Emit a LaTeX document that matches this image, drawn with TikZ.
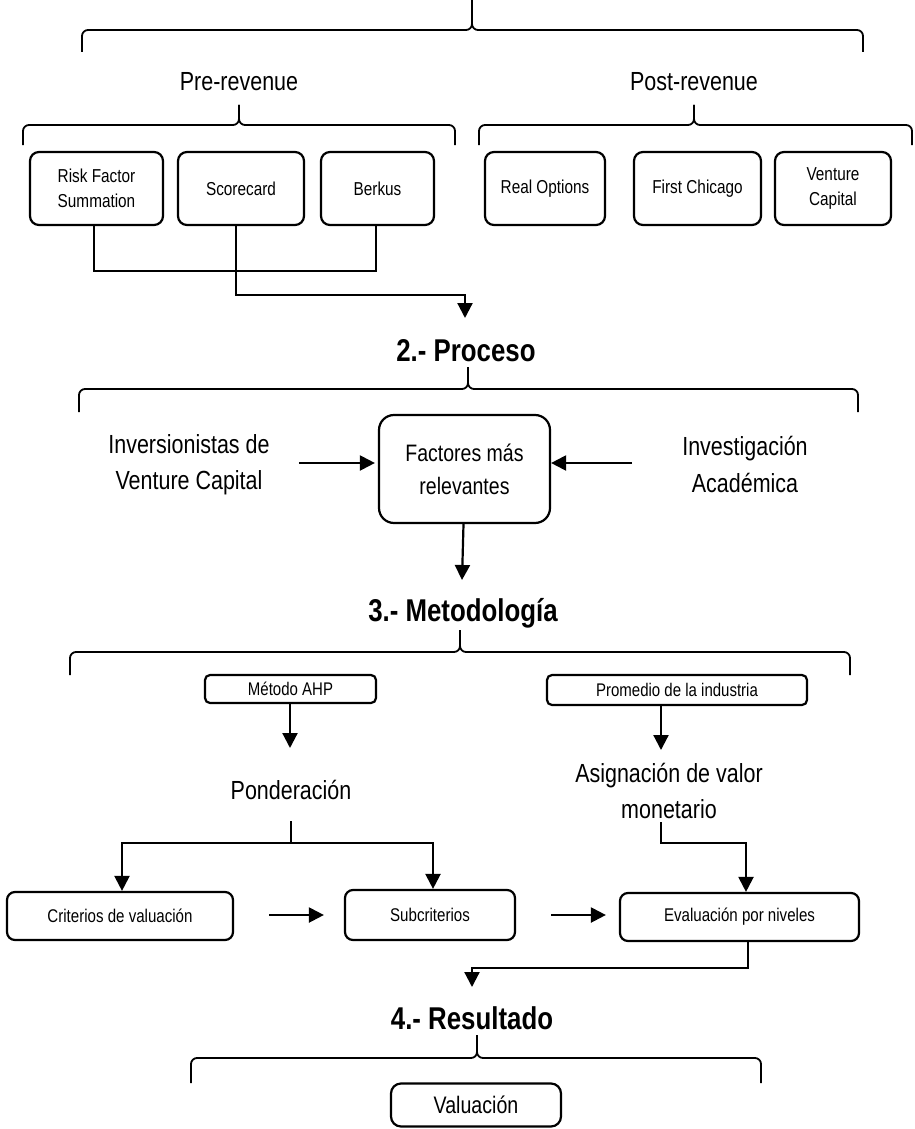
\documentclass[tikz,border=0pt]{standalone}
\usepackage{fontspec}
\setmainfont{Liberation Sans}[FakeStretch=0.82]
\usetikzlibrary{arrows.meta}
\newcommand{\brc}[6]{%
  \draw[bracestyle] (#1,#6) -- (#1,#4) -- (#3,#4) -- (#3,#5);
  \draw[bracestyle] (#2,#6) -- (#2,#4) -- (#3,#4) -- (#3,#5);}
\begin{document}
\begin{tikzpicture}[x=1pt,y=-1pt,
  bracestyle/.style={line width=1.8pt,rounded corners=6pt},
  conn/.style={line width=2pt},
  arr/.style={line width=2.2pt,-{Triangle[length=15pt,width=15pt]}},
  bigbox/.style={draw,line width=2.2pt,rounded corners=9pt,align=center,inner sep=0pt,
    font=\fontsize{18.7}{25}\selectfont,minimum height=73pt},
  smallbox/.style={draw,line width=2.2pt,rounded corners=5pt,align=center,inner sep=0pt,
    font=\fontsize{18.3}{20}\selectfont},
  midbox/.style={draw,line width=2.2pt,rounded corners=8pt,align=center,inner sep=0pt,
    font=\fontsize{18.4}{20}\selectfont,minimum height=48pt},
  label/.style={align=center,inner sep=0pt,font=\fontsize{26.2}{36.5}\selectfont},
  title/.style={inner sep=0pt,font=\fontsize{31.5}{34}\selectfont\bfseries}]
\useasboundingbox (0,0) rectangle (914,1129);

% level 1
\brc{82}{863}{472}{30}{0}{52}
\node[label] (pre) at (239,82) {Pre-revenue};
\node[label] (post) at (694,82) {Post-revenue};
\brc{23}{455}{239}{125}{105}{145}
\brc{479}{912}{694}{125}{105}{145}

\node[bigbox,minimum width=133pt] (risk) at (96.5,188.5) {Risk Factor\\Summation};
\node[bigbox,minimum width=126pt] (score) at (241,188.5) {Scorecard};
\node[bigbox,minimum width=113pt] (berkus) at (377.5,188.5) {Berkus};
\node[bigbox,minimum width=120pt] (realopt) at (545,188.5) {Real Options};
\node[bigbox,minimum width=127pt] (chicago) at (697.5,188.5) {First Chicago};
\node[bigbox,minimum width=116pt] (vc) at (833,188.5) {Venture\\Capital};

\draw[conn] ([xshift=-3pt]risk.south) -- ++(0,45) -| ([xshift=-1.5pt]berkus.south);
\coordinate (p1) at (465,318);
\draw[arr] ([xshift=-5pt]score.south) |- (465,295) -- (p1);

% level 2
\node[title] (proceso) at (466,351) {2.- Proceso};
\brc{79}{858}{468}{389}{367}{412}
\node[label] (inv) at (189,464.5) {Inversionistas de\\Venture Capital};
\node[label] (acad) at (745,464.5) {Investigación\\Académica};
\node[draw,line width=2.2pt,rounded corners=15pt,align=center,inner sep=0pt,
  minimum width=171pt,minimum height=108pt,font=\fontsize{23.8}{33}\selectfont]
  (fact) at (464.5,469) {Factores más\\relevantes};
\draw[arr] ([xshift=-79pt,yshift=6pt]fact.west) -- ([xshift=-3pt,yshift=6pt]fact.west);
\draw[arr] ([xshift=81pt,yshift=6pt]fact.east) -- ([yshift=6pt]fact.east);
\coordinate (p2) at (462,580);
\draw[arr] ([xshift=-1pt]fact.south) -- (p2);

% level 3
\node[title] (metodo) at (463,613) {3.- Metodología};
\brc{70}{850}{460}{652}{630}{675}
\node[smallbox,minimum width=171pt,minimum height=28pt] (ahp) at (290.5,689) {Método AHP};
\node[smallbox,minimum width=260pt,minimum height=30pt] (prom) at (677,690) {Promedio de la industria};
\node[label] (pond) at (291,790) {Ponderación};
\node[label] (asig) at (669,791) {Asignación de valor\\monetario};
\coordinate (p3) at (290,748);
\coordinate (p4) at (661,750);
\draw[arr] ([xshift=-0.5pt]ahp.south) -- (p3);
\draw[arr] (prom.south -| p4) -- (p4);

\node[midbox,minimum width=226pt] (crit) at (120,916) {Criterios de valuación};
\node[midbox,minimum width=170pt,minimum height=50pt] (sub) at (430,915) {Subcriterios};
\node[midbox,minimum width=239pt] (eval) at (739.5,917) {Evaluación por niveles};

\coordinate (j2) at (291,843);
\draw[conn] (291,821) -- (j2);
\draw[arr] (j2) -| ([xshift=2pt]crit.north);
\draw[arr] (j2) -| ([xshift=3pt]sub.north);
\draw[arr] (661,822) |- (746,843) -- ([xshift=6.5pt]eval.north);
\draw[arr] ([xshift=35pt]crit.east |- sub.west) -- ([xshift=-20pt]sub.west);
\draw[arr] ([xshift=35pt]sub.east) -- ([xshift=-13pt]eval.west |- sub.east);
\coordinate (p5) at (472,987);
\draw[arr] ([xshift=8.5pt]eval.south) |- (472,968) -- (p5);

% level 4
\node[title] (res) at (472,1018) {4.- Resultado};
\brc{191}{761}{477}{1058}{1035}{1083}
\node[draw,line width=2.2pt,rounded corners=10pt,inner sep=0pt,minimum width=170pt,
  minimum height=43pt,font=\fontsize{23.9}{26}\selectfont] (val) at (476,1105) {Valuación};
\end{tikzpicture}
\end{document}
